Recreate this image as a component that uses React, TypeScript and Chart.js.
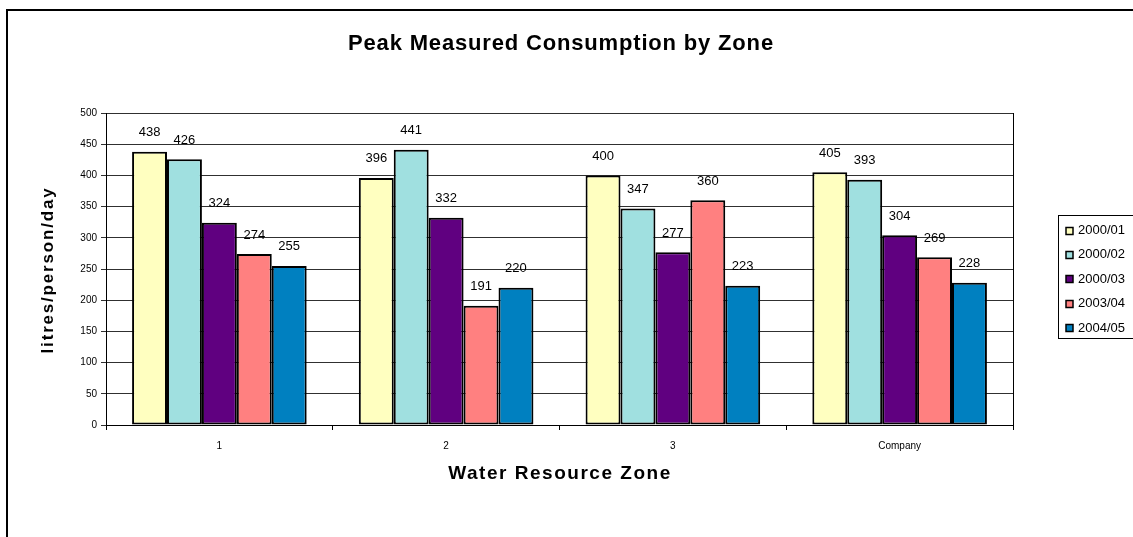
import React, { useEffect, useRef } from "react";
import { Chart, registerables } from "chart.js";

Chart.register(...registerables);

const categories = ["1", "2", "3", "Company"];
const seriesNames = ["2000/01", "2000/02", "2000/03", "2003/04", "2004/05"];
const series0001 = [438, 396, 400, 405];
const series0002 = [426, 441, 347, 393];
const series0003 = [324, 332, 277, 304];
const series0304 = [274, 191, 360, 269];
const series0405 = [255, 220, 223, 228];
const seriesColors = ["#FFFFC0", "#A0E0E0", "#600080", "#FF8080", "#0080C0"];
const yTicks = [0, 50, 100, 150, 200, 250, 300, 350, 400, 450, 500];

const chartTitle = "Peak Measured Consumption by Zone";
const xTitle = "Water Resource Zone";
const yTitle = "litres/person/day";

const FONT = "'Liberation Sans', Arial, Helvetica, sans-serif";

function fitText(ctx: CanvasRenderingContext2D, text: string, target: number) {
  (ctx as any).letterSpacing = "0px";
  const w = ctx.measureText(text).width;
  const sp = (target - w) / Math.max(1, text.length - 1);
  (ctx as any).letterSpacing = sp.toFixed(2) + "px";
}

const decorPlugin = {
  id: "decor",
  beforeDraw(chart: any) {
    const ctx = chart.ctx;
    ctx.save();
    ctx.fillStyle = "#ffffff";
    ctx.fillRect(0, 0, chart.width, chart.height);
    ctx.restore();
  },
  afterDraw(chart: any) {
    const ctx: CanvasRenderingContext2D = chart.ctx;
    const ca = chart.chartArea;
    ctx.save();
    // outer frame
    ctx.strokeStyle = "#000";
    ctx.lineWidth = 2;
    ctx.strokeRect(7, 10, 1200, 600);
    // plot right border
    ctx.lineWidth = 1;
    ctx.beginPath();
    ctx.moveTo(Math.round(ca.right) + 0.5, ca.top);
    ctx.lineTo(Math.round(ca.right) + 0.5, ca.bottom);
    ctx.stroke();

    // titles
    ctx.fillStyle = "#000";
    ctx.textAlign = "center";
    ctx.textBaseline = "middle";
    ctx.font = "bold 22px " + FONT;
    fitText(ctx, chartTitle, 425);
    ctx.fillText(chartTitle, 561, 44);

    ctx.font = "bold 19px " + FONT;
    fitText(ctx, xTitle, 222);
    ctx.fillText(xTitle, 560, 474);

    ctx.save();
    ctx.translate(48, 270);
    ctx.rotate(-Math.PI / 2);
    ctx.font = "bold 17px " + FONT;
    fitText(ctx, yTitle, 165);
    ctx.fillText(yTitle, 0, 0);
    ctx.restore();
    (ctx as any).letterSpacing = "0px";

    // legend
    const lx = 1058.5;
    const ly = 215.5;
    ctx.strokeStyle = "#000";
    ctx.lineWidth = 1;
    ctx.strokeRect(lx, ly, 120, 123);
    ctx.font = "13px " + FONT;
    ctx.textAlign = "left";
    chart.data.datasets.forEach((ds: any, i: number) => {
      const cy = 230.5 + i * 24.4;
      ctx.fillStyle = ds.backgroundColor;
      ctx.fillRect(1066, Math.round(cy) - 3.5, 7, 7);
      ctx.strokeStyle = "#000";
      ctx.lineWidth = 1.5;
      ctx.strokeRect(1066, Math.round(cy) - 3.5, 7, 7);
      ctx.fillStyle = "#000";
      ctx.fillText(ds.label, 1078, cy);
    });

    // data labels
    ctx.font = "13px " + FONT;
    ctx.textAlign = "center";
    ctx.fillStyle = "#000";
    chart.data.datasets.forEach((ds: any, i: number) => {
      const meta = chart.getDatasetMeta(i);
      meta.data.forEach((el: any, j: number) => {
        ctx.fillText(String(ds.data[j]), el.x, el.y - 19);
      });
    });
    ctx.restore();
  },
};

export default function App() {
  const ref = useRef<HTMLCanvasElement | null>(null);
  useEffect(() => {
    if (!ref.current) return;
    const allSeries = [series0001, series0002, series0003, series0304, series0405];
    const chart = new Chart(ref.current, {
      type: "bar",
      data: {
        labels: categories,
        datasets: allSeries.map((d, i) => ({
          label: seriesNames[i],
          data: d,
          backgroundColor: seriesColors[i],
          borderColor: "#000",
          borderWidth: 2,
          borderSkipped: false,
          categoryPercentage: 0.77,
          barPercentage: 1.0,
        })),
      },
      options: {
        animation: false,
        responsive: false,
        devicePixelRatio: 1,
        layout: { padding: { left: 0, right: 120, top: 113, bottom: 82 } },
        plugins: {
          legend: { display: false },
          title: { display: false },
          tooltip: { enabled: false },
        },
        scales: {
          x: {
            afterFit: (s: any) => {
              s.height = 30;
            },
            grid: {
              offset: true,
              drawOnChartArea: false,
              color: "#000",
              tickLength: 5,
            },
            border: { color: "#000", width: 1 },
            ticks: { color: "#000", font: { family: FONT, size: 10 }, padding: 10 },
          },
          y: {
            min: 0,
            max: 500,
            afterFit: (s: any) => {
              s.width = 106;
            },
            afterBuildTicks: (s: any) => {
              s.ticks = yTicks.map((v) => ({ value: v }));
            },
            grid: { color: "#303030", tickLength: 5 },
            border: { color: "#000", width: 1 },
            ticks: { color: "#000", font: { family: FONT, size: 10 }, padding: 4 },
          },
        },
      },
      plugins: [decorPlugin],
    });
    return () => chart.destroy();
  }, []);
  return (
    <div style={{ position: "absolute", left: 0, top: 0, width: 1133, height: 537 }}>
      <canvas ref={ref} width={1133} height={537} style={{ display: "block" }} />
    </div>
  );
}
